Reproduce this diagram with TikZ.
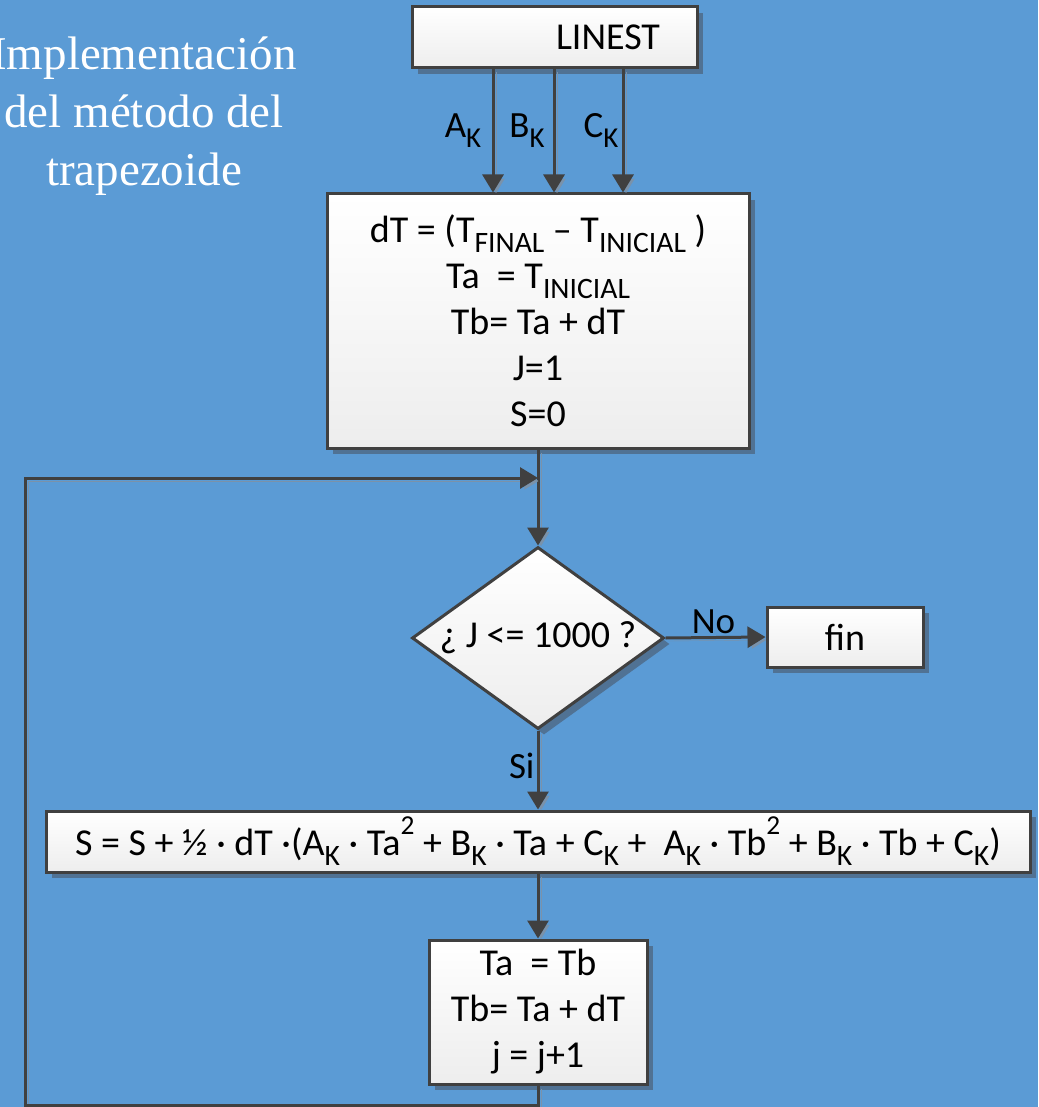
\documentclass[tikz,border=0pt]{standalone}
\usepackage{fontspec}
\setmainfont{Carlito}
\newfontfamily\titlefont{Liberation Serif}
\usetikzlibrary{shapes.geometric,arrows.meta,shadows}

\definecolor{fondo}{RGB}{91,155,213}
\definecolor{trazo}{RGB}{64,64,64}
\definecolor{sombra}{RGB}{80,114,148}
\definecolor{sombralinea}{RGB}{122,146,170}

% sub- and superscripts in text
\newcommand{\sbs}[1]{\raisebox{-0.26em}{\scalebox{0.78}{#1}}}
\newcommand{\sps}[1]{\raisebox{0.55em}{\scalebox{0.72}{#1}}}

\tikzset{
  caja/.style={draw=trazo, line width=3pt, top color=white, bottom color=gray!14,
    drop shadow={shadow xshift=6pt, shadow yshift=-6pt, fill=sombra, opacity=1},
    inner sep=0pt, align=center, font=\fontsize{38}{46}\selectfont},
  decision/.style={caja, diamond, aspect=1.37},
  flecha/.style={draw=trazo, line width=3pt, -{Triangle[length=18pt,width=21pt]},
    preaction={draw=sombralinea, transform canvas={shift={(3pt,-3pt)}}}},
  etiqueta/.style={font=\fontsize{37}{40}\selectfont, inner sep=0pt},
  titulo/.style={text=white, align=center, inner sep=0pt,
    font=\titlefont\fontsize{47}{58}\selectfont}
}

\begin{document}
\begin{tikzpicture}[x=1pt,y=-1pt]
  \useasboundingbox (0,0) rectangle (1038,1107);
  \fill[fondo] (0,0) rectangle (1038,1107);

  % title
  \node[titulo] (titulo) at (144,116) {Implementación\\del método del\\trapezoide};

  % boxes
  \node[caja, minimum width=285pt, minimum height=61pt, text width=211pt, align=right]
    (linest) at (554.5,37.5) {LINEST};
  \node[caja, minimum width=422pt, minimum height=254pt] (init) at (538,321)
    {dT = (T\sbs{FINAL} – T\sbs{INICIAL} )\\Ta~ = T\sbs{INICIAL}\\Tb= Ta + dT\\J=1\\S=0};
  \node[decision, minimum width=252pt, minimum height=182pt] (cond) at (538,638)
    {¿ J <= 1000 ?};
  \node[caja, minimum width=156pt, minimum height=60pt] (fin) at (845,637) {fin};
  \node[caja, minimum width=984pt, minimum height=61pt] (suma) at (538,841.5)
    {S = S + ½ · dT ·(A\sbs{K} · Ta\sps{2} + B\sbs{K} · Ta + C\sbs{K} +~ A\sbs{K} · Tb\sps{2} + B\sbs{K} · Tb + C\sbs{K})};
  \node[caja, minimum width=218pt, minimum height=144pt] (paso) at (538,1012)
    {Ta~ = Tb\\Tb= Ta + dT\\j = j+1};

  % coefficients from LINEST
  \coordinate (xa) at (493,0);
  \coordinate (xb) at (554,0);
  \coordinate (xc) at (623,0);
  \draw[flecha] (xa |- linest.south) -- (xa |- init.north);
  \draw[flecha] (xb |- linest.south) -- (xb |- init.north);
  \draw[flecha] (xc |- linest.south) -- (xc |- init.north);
  \node[etiqueta, anchor=base] (la) at (463,138) {A\sbs{K}};
  \node[etiqueta, anchor=base] (lb) at (527,138) {B\sbs{K}};
  \node[etiqueta, anchor=base] (lc) at (601,138) {C\sbs{K}};

  % main flow
  \draw[flecha] (init.south) -- (cond.north);
  \draw[flecha] (cond.east) -- (fin.west) node[etiqueta, pos=0.48, above=2pt] (no) {No};
  \draw[flecha] (cond.south) -- (suma.north) node[etiqueta, pos=0.45, left=2pt] (si) {Si};
  \draw[flecha] (suma.south) -- (paso.north);

  % back to the test
  \coordinate (abajo) at (25,1105);
  \coordinate (arriba) at (25,478);
  \coordinate (junta) at (538,478);
  \draw[flecha] (paso.south) -- (paso.south |- abajo) -- (abajo) -- (arriba) -- (junta);
\end{tikzpicture}
\end{document}
